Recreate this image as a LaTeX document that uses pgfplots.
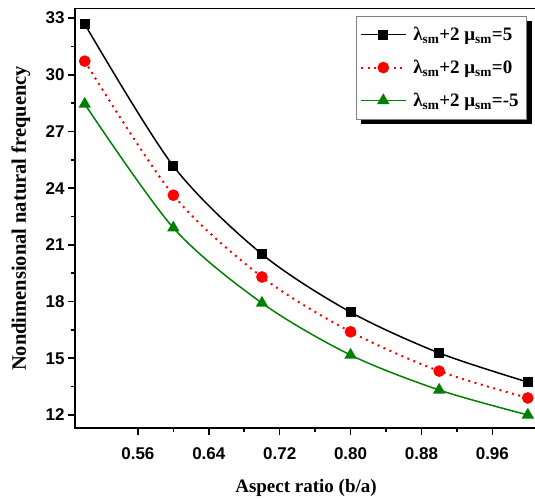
\documentclass[border=0pt]{standalone}
\usepackage{pgfplots}
\pgfplotsset{compat=1.18}
\usepackage{fontspec}
\setmainfont{Liberation Serif}
\setsansfont{Liberation Sans}
\definecolor{mygreen}{RGB}{0,128,0}
\begin{document}
\begin{tikzpicture}
\begin{axis}[
  name=ax,
  scale only axis,
  width=462pt, height=419pt,
  xmin=0.489, xmax=1.0104,
  ymin=11.31, ymax=33.48,
  xtick={0.56,0.64,0.72,0.80,0.88,0.96},
  ytick={12,15,18,21,24,27,30,33},
  minor x tick num=1,
  minor y tick num=1,
  tick pos=left,
  tick align=outside,
  major tick length=7pt,
  minor tick length=4pt,
  every tick/.style={line width=1.6pt, black},
  axis line style={line width=1pt},
  /pgf/number format/assume math mode=true,
  xticklabel style={/pgf/number format/fixed, /pgf/number format/fixed zerofill, /pgf/number format/precision=2, yshift=-9pt},
  ticklabel style={font=\sffamily\bfseries\fontsize{17}{17}\selectfont},
  xlabel={Aspect ratio (b/a)},
  ylabel={Nondimensional natural frequency},
  xlabel style={at={(axis description cs:0.5,0)}, anchor=base, yshift=-64pt, font=\bfseries\fontsize{19}{19}\selectfont},
  ylabel style={at={(axis description cs:0,0.5)}, anchor=base, yshift=49pt, font=\bfseries\fontsize{20.5}{20.5}\selectfont},
  legend style={at={(axis description cs:0,1)}, anchor=north west, xshift=281pt, yshift=-7pt,
    name=leg,
    draw=gray, line width=0.6pt, fill=white,
    font=\bfseries\fontsize{19}{19}\selectfont,
    row sep=14pt, column sep=5pt, inner xsep=4pt, inner ysep=9pt},
  legend cell align=left,
  legend image code/.code={\draw[mark repeat=2,mark phase=2] plot coordinates {(0pt,0pt) (22pt,0pt) (44pt,0pt)};},
]
\addplot[black, line width=1.5pt, smooth, mark=square*, mark size=4.2pt, mark options={solid}]
  coordinates {(0.5,32.68) (0.6,25.17) (0.7,20.51) (0.8,17.44) (0.9,15.28) (1.0,13.74)};
\addlegendentry{λ\textsubscript{sm}+2 μ\textsubscript{sm}=5\hspace*{2pt}}
\addplot[red, line width=2pt, smooth, dash pattern=on 2pt off 4.5pt, mark=*, mark size=4.8pt, mark options={solid}]
  coordinates {(0.5,30.72) (0.6,23.63) (0.7,19.30) (0.8,16.40) (0.9,14.32) (1.0,12.90)};
\addlegendentry{λ\textsubscript{sm}+2 μ\textsubscript{sm}=0\hspace*{2pt}}
\addplot[mygreen, line width=1.5pt, smooth, mark=triangle*, mark size=5.7pt, mark options={solid}]
  coordinates {(0.5,28.45) (0.6,21.90) (0.7,17.92) (0.8,15.17) (0.9,13.32) (1.0,12.00)};
\addlegendentry{λ\textsubscript{sm}+2 μ\textsubscript{sm}=-5\hspace*{2pt}}
\draw[line width=2pt, line cap=rect] (rel axis cs:0,1) -- (rel axis cs:0,0) -- (rel axis cs:1,0);
\end{axis}
\fill[black] ([shift={(0.3pt,-5pt)}]leg.north east) rectangle ([shift={(5pt,-5pt)}]leg.south east);
\fill[black] ([shift={(5pt,-0.3pt)}]leg.south west) rectangle ([shift={(5pt,-5pt)}]leg.south east);
\pgfresetboundingbox
\path (ax.south west) ++(-75pt,-70pt) coordinate (bbA);
\path (ax.north west) ++(460pt,9pt) coordinate (bbB);
\path[use as bounding box] (bbA) rectangle (bbB);
\end{tikzpicture}
\end{document}
